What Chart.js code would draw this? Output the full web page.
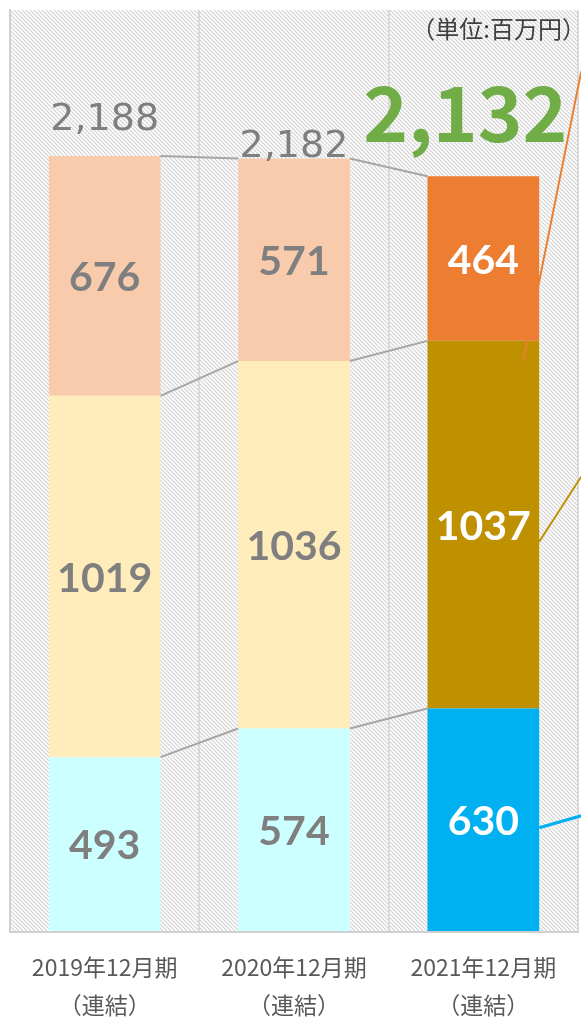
<!DOCTYPE html>
<html>
<head>
<meta charset="utf-8">
<script src="https://cdn.jsdelivr.net/npm/chart.js@4.4.0/dist/chart.umd.min.js"></script>
<style>
  html, body { margin: 0; padding: 0; background: #fff; }
  canvas { display: block; }
</style>
</head>
<body>
<canvas id="chart" width="581" height="1020"></canvas>
<script>
const CATEGORIES = ['2019年12月期', '2020年12月期', '2021年12月期'];
const SUB_LABEL = '（連結）';
const BOTTOM = [493, 574, 630];
const MIDDLE = [1019, 1036, 1037];
const TOP = [676, 571, 464];
const TOTALS = ['2,188', '2,182', '2,132'];
const UNIT = '（単位:百万円）';

const GRAY = '#7f7f7f';
const GRID = '#d9d9d9';

function hatch(ctx) {
	const c = document.createElement('canvas');
	c.width = 4; c.height = 4;
	const g = c.getContext('2d');
	g.fillStyle = '#fff';
	g.fillRect(0, 0, 4, 4);
	g.strokeStyle = '#d2d2d2';
	g.lineWidth = 1.2;
	g.beginPath();
	g.moveTo(-1, -1); g.lineTo(5, 5);
	g.moveTo(-1, 3); g.lineTo(1, 5);
	g.moveTo(3, -1); g.lineTo(5, 1);
	g.stroke();
	return ctx.createPattern(c, 'repeat');
}

const backdrop = {
	id: 'backdrop',
	beforeDraw(chart) {
		const { ctx, chartArea: a } = chart;
		ctx.save();
		ctx.fillStyle = hatch(ctx);
		ctx.fillRect(a.left, a.top, a.right - a.left, a.bottom - a.top);
		ctx.restore();
	}
};

function line(ctx, x1, y1, x2, y2, color, width) {
	ctx.beginPath();
	ctx.moveTo(x1, y1);
	ctx.lineTo(x2, y2);
	ctx.strokeStyle = color;
	ctx.lineWidth = width;
	ctx.stroke();
}

const overlay = {
	id: 'overlay',
	afterDatasetsDraw(chart) {
		const { ctx } = chart;
		const metas = chart.data.datasets.map((_, i) => chart.getDatasetMeta(i).data);
		const n = CATEGORIES.length;
		ctx.save();

		// connectors between stacks
		for (let i = 0; i < n - 1; i++) {
			metas.forEach(els => {
				const a = els[i], b = els[i + 1];
				line(ctx, a.x + a.width / 2, a.y, b.x - b.width / 2, b.y, '#a6a6a6', 2);
			});
		}

		// leader lines leaving the last stack
		const last = n - 1;
		const [eB, eM, eT] = metas.map(els => els[last]);
		line(ctx, eT.x + 40, eT.base + 20, eT.x + 98, eT.base - 270, '#ed7d31', 2);
		const midM = (eM.y + eM.base) / 2;
		line(ctx, eM.x + eM.width / 2, midM + 17, eM.x + eM.width / 2 + 42, midM - 48, '#bf9000', 2);
		const midB = (eB.y + eB.base) / 2;
		line(ctx, eB.x + eB.width / 2, midB + 8, eB.x + eB.width / 2 + 42, midB - 4, '#00b0f0', 3);

		// segment values
		ctx.font = 'bold 41px Lato, "Open Sans", sans-serif';
		ctx.textAlign = 'center';
		ctx.textBaseline = 'middle';
		metas.forEach((els, d) => {
			els.forEach((el, i) => {
				const v = chart.data.datasets[d].data[i];
				ctx.fillStyle = i === last ? '#ffffff' : GRAY;
				ctx.fillText(String(v), el.x, (el.y + el.base) / 2 + 2);
			});
		});

		// totals
		ctx.textBaseline = 'alphabetic';
		const gaps = [26, 2, 34];
		const shifts = [0, 0, -18];
		metas[2].forEach((el, i) => {
			if (i === last) {
				ctx.font = 'bold 76px "Noto Sans CJK JP", sans-serif';
				ctx.fillStyle = '#70ad47';
			} else {
				ctx.font = '38px "DejaVu Sans", sans-serif';
				ctx.fillStyle = GRAY;
			}
			ctx.fillText(TOTALS[i], el.x + shifts[i], el.y - gaps[i]);
		});

		// unit
		ctx.font = '24px "Noto Sans CJK JP", sans-serif';
		ctx.fillStyle = '#404040';
		ctx.textAlign = 'right';
		ctx.textBaseline = 'middle';
		ctx.fillText(UNIT, chart.width + 5, 29);

		ctx.restore();
	}
};

const canvas = document.getElementById('chart');
new Chart(canvas.getContext('2d'), {
	type: 'bar',
	data: {
		labels: CATEGORIES.map(c => [c, SUB_LABEL]),
		datasets: [
			{ label: 'bottom', data: BOTTOM, backgroundColor: ['#ccffff', '#ccffff', '#00b0f0'] },
			{ label: 'middle', data: MIDDLE, backgroundColor: ['#ffecbb', '#ffecbb', '#bf9000'] },
			{ label: 'top', data: TOP, backgroundColor: ['#f8cbad', '#f8cbad', '#ed7d31'] }
		]
	},
	options: {
		responsive: false,
		animation: false,
		layout: { padding: { left: 10, top: 10, right: 3, bottom: 0 } },
		datasets: { bar: { categoryPercentage: 1, barPercentage: 0.59, borderWidth: 0 } },
		plugins: { legend: { display: false }, tooltip: { enabled: false } },
		scales: {
			x: {
				stacked: true,
				grid: { color: GRID, lineWidth: 2, drawTicks: false },
				border: { color: '#d0d0d0', width: 2 },
				ticks: {
					color: '#595959',
					padding: 16,
					font: { family: '"Noto Sans CJK JP", sans-serif', size: 23, lineHeight: 1.65 }
				},
				afterFit: s => { s.height = 88; }
			},
			y: {
				stacked: true,
				min: 0,
				max: 2600,
				ticks: { display: false, stepSize: 500 },
				grid: {
					color: c => (c.tick && c.tick.value % 500 === 0 ? GRID : 'rgba(0,0,0,0)'),
					lineWidth: 2,
					drawTicks: false
				},
				border: { color: '#d0d0d0', width: 2 },
				afterFit: s => { s.width = 0; }
			}
		}
	},
	plugins: [backdrop, overlay]
});
</script>
</body>
</html>
